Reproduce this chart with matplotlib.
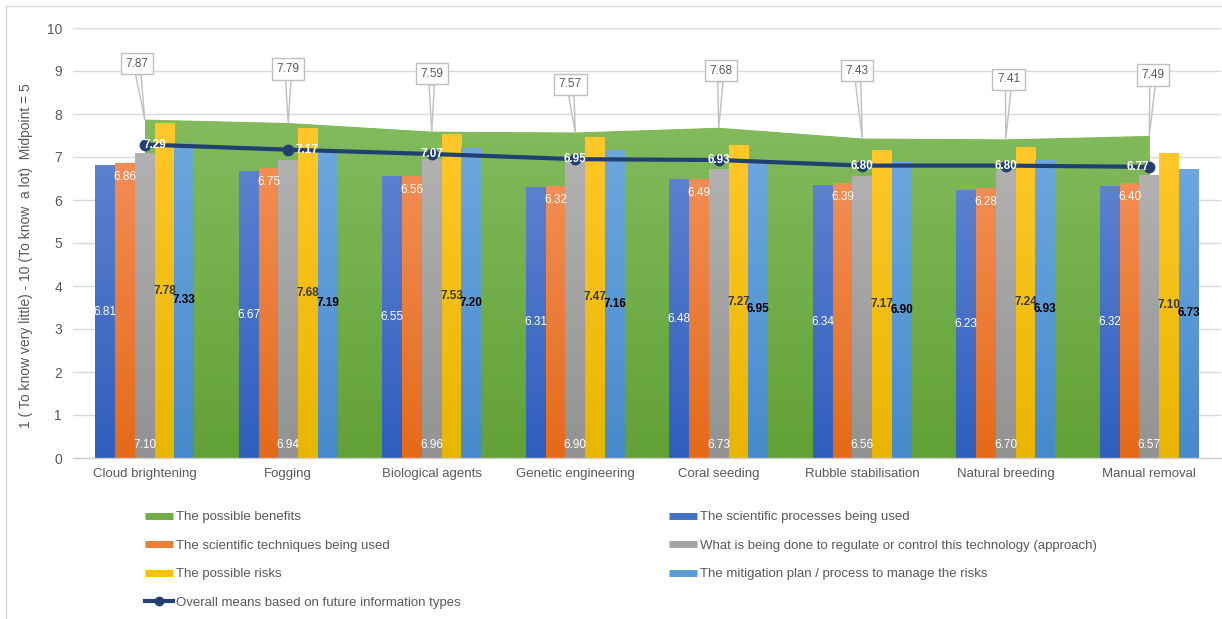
import numpy as np
import matplotlib
matplotlib.use('Agg')
import matplotlib.pyplot as plt
from matplotlib.colors import LinearSegmentedColormap
from matplotlib.lines import Line2D

plt.rcParams['font.family'] = ['Liberation Sans', 'DejaVu Sans']

# ---------------- data ----------------
categories = ["Cloud brightening", "Fogging", "Biological agents", "Genetic engineering",
              "Coral seeding", "Rubble stabilisation", "Natural breeding", "Manual removal"]
benefits = [7.87, 7.79, 7.59, 7.57, 7.68, 7.43, 7.41, 7.49]
processes = [6.81, 6.67, 6.55, 6.31, 6.48, 6.34, 6.23, 6.32]
techniques = [6.86, 6.75, 6.56, 6.32, 6.49, 6.39, 6.28, 6.40]
regulate = [7.10, 6.94, 6.96, 6.90, 6.73, 6.56, 6.70, 6.57]
risks = [7.78, 7.68, 7.53, 7.47, 7.27, 7.17, 7.24, 7.10]
mitigation = [7.33, 7.19, 7.20, 7.16, 6.95, 6.90, 6.93, 6.73]
overall = [7.29, 7.17, 7.07, 6.95, 6.93, 6.80, 6.80, 6.77]

name_benefits = "The possible benefits"
name_processes = "The scientific processes being used"
name_techniques = "The scientific techniques being used"
name_regulate = "What is being done to regulate or control this technology (approach)"
name_risks = "The possible risks"
name_mitigation = "The mitigation plan / process to manage the risks"
name_overall = "Overall means based on future information types"
y_label = "1 ( To know very little) - 10 (To know  a lot)  Midpoint = 5"
y_ticks = list(range(0, 11))

# ---------------- style ----------------
TXT = '#595959'
W, H = 1222, 619
fig = plt.figure(figsize=(W / 100, H / 100), dpi=100)
ax = fig.add_axes([73 / W, 1 - 458 / H, 1148 / W, 430 / H])

x = np.arange(len(categories))
grad = np.linspace(0, 1, 256).reshape(-1, 1)

# area (possible benefits) with gradient
poly = ax.fill_between(x, 0, benefits, color='#70AD47', lw=0, zorder=1)
cm_area = LinearSegmentedColormap.from_list('area', ['#83BB5D', '#62A136'])
im = ax.imshow(grad, cmap=cm_area, extent=[x[0], x[-1], 0, max(benefits)],
               aspect='auto', origin='upper', zorder=1.1, interpolation='bilinear')
im.set_clip_path(poly.get_paths()[0], ax.transData)

# bars
w = 0.138
specs = [
    (processes, name_processes, '#4472C4', '#5B81D0', '#2F5EBD'),
    (techniques, name_techniques, '#ED7D31', '#F28D54', '#E46A19'),
    (regulate, name_regulate, '#A5A5A5', '#B1B1B1', '#929292'),
    (risks, name_risks, '#FFC000', '#FFC72B', '#E8B600'),
    (mitigation, name_mitigation, '#5B9BD5', '#6CA7DE', '#468ACB'),
]
bar_sets = []
for k, (vals, name, base, top, bot) in enumerate(specs):
    bars = ax.bar(x + (k - 2) * w, vals, w, color=base, lw=0, zorder=2)
    cm = LinearSegmentedColormap.from_list(name, [top, bot])
    for b in bars:
        gi = ax.imshow(grad, cmap=cm,
                       extent=[b.get_x(), b.get_x() + b.get_width(), 0, b.get_height()],
                       aspect='auto', origin='upper', zorder=2.1, interpolation='bilinear')
        gi.set_clip_path(b)
    bar_sets.append(bars)

# line
LINE_C = '#223F73'
ax.plot(x, overall, color=LINE_C, lw=3, marker='o', ms=7.5, zorder=4)

# ---- labels ----
lab_fs = 8.5
# processes: centre, white
for b in bar_sets[0]:
    ax.annotate(f"{b.get_height():.2f}", (b.get_x() + b.get_width() / 2, b.get_height() / 2),
                ha='center', va='center', color='white', fontsize=lab_fs, zorder=6)
# techniques: inside end, white
for b in bar_sets[1]:
    ax.annotate(f"{b.get_height():.2f}", (b.get_x() + b.get_width() / 2, b.get_height()),
                xytext=(0, -14), textcoords='offset pixels',
                ha='center', va='center', color='white', fontsize=lab_fs, zorder=6)
# regulate: inside base, white
for b in bar_sets[2]:
    ax.annotate(f"{b.get_height():.2f}", (b.get_x() + b.get_width() / 2, 0),
                xytext=(0, 13), textcoords='offset pixels',
                ha='center', va='center', color='white', fontsize=lab_fs, zorder=6)
# risks: centre, dark
for b in bar_sets[3]:
    ax.annotate(f"{b.get_height():.2f}", (b.get_x() + b.get_width() / 2, b.get_height() / 2),
                ha='center', va='center', color='#3A3A3A', fontsize=lab_fs,
                fontweight='bold', zorder=6)
# mitigation: centre, black bold
for b in bar_sets[4]:
    ax.annotate(f"{b.get_height():.2f}", (b.get_x() + b.get_width() / 2, b.get_height() / 2),
                ha='center', va='center', color='black', fontsize=lab_fs,
                fontweight='bold', zorder=6)
# overall line labels
line_dx = [10, 19, 0, 0, 0, 0, 0, -11]
for xi, v, dx in zip(x, overall, line_dx):
    ax.annotate(f"{v:.2f}", (xi, v), xytext=(dx, 0), textcoords='offset pixels',
                ha='center', va='center', color='white', fontsize=lab_fs,
                fontweight='bold', zorder=6)
# callouts for area
call_off = [(-8, 56), (0, 54), (0, 58), (-5, 48), (2, 57), (-5, 68), (3, 60), (4, 61)]
for xi, v, (dx, dy) in zip(x, benefits, call_off):
    ax.annotate(f"{v:.2f}", (xi, v), xytext=(dx, dy), textcoords='offset pixels',
                ha='center', va='center', color=TXT, fontsize=8.5, zorder=7,
                bbox=dict(boxstyle='square,pad=0.4', fc='white', ec='#BFBFBF', lw=1),
                arrowprops=dict(arrowstyle='wedge,tail_width=0.45,shrink_factor=0.5',
                                fc='white', ec='#BFBFBF', lw=1, shrinkA=0, shrinkB=0))

# ---- axes ----
ax.set_xlim(-0.5, len(categories) - 0.5)
ax.set_ylim(0, 10)
ax.set_yticks(y_ticks)
ax.set_xticks(x)
ax.set_xticklabels(categories)
ax.tick_params(axis='both', length=0, colors=TXT, labelsize=9.5)
ax.tick_params(axis='y', pad=8, labelsize=10)
ax.tick_params(axis='x', pad=7)
ax.yaxis.grid(True, color='#D9D9D9', lw=1)
ax.set_axisbelow(True)
for s in ['top', 'right', 'left']:
    ax.spines[s].set_visible(False)
ax.spines['bottom'].set_color('#D0D0D0')
ax.spines['bottom'].set_linewidth(1)
ax.patch.set_alpha(0)

fig.text(26 / W, 1 - 256 / H, y_label, rotation=90, ha='center', va='center',
         color=TXT, fontsize=10)

# figure border (left & top visible)
fig.add_artist(Line2D([6 / W, 6 / W], [0, 1 - 6 / H], color='#D9D9D9', lw=1,
                      transform=fig.transFigure))
fig.add_artist(Line2D([6 / W, 1], [1 - 6 / H, 1 - 6 / H], color='#D9D9D9', lw=1,
                      transform=fig.transFigure))

# ---- legend ----
def bar_handle(c):
    return Line2D([], [], color=c, lw=5, solid_capstyle='butt')

h_left = [bar_handle('#70AD47'), bar_handle('#ED7D31'), bar_handle('#FFC000'),
          Line2D([], [], color=LINE_C, lw=3, marker='o', ms=6)]
l_left = [name_benefits, name_techniques, name_risks, name_overall]
h_right = [bar_handle('#4472C4'), bar_handle('#A5A5A5'), bar_handle('#5B9BD5')]
l_right = [name_processes, name_regulate, name_mitigation]

common = dict(frameon=False, fontsize=9.5, labelcolor=TXT, borderpad=0, borderaxespad=0,
              handlelength=2.1, handletextpad=0.25, labelspacing=1.24, loc='upper left')
fig.legend(h_left, l_left, bbox_to_anchor=(145 / W, 1 - 511 / H), **common)
fig.legend(h_right, l_right, bbox_to_anchor=(669 / W, 1 - 511 / H), **common)

fig.savefig('out.png', dpi=100)
